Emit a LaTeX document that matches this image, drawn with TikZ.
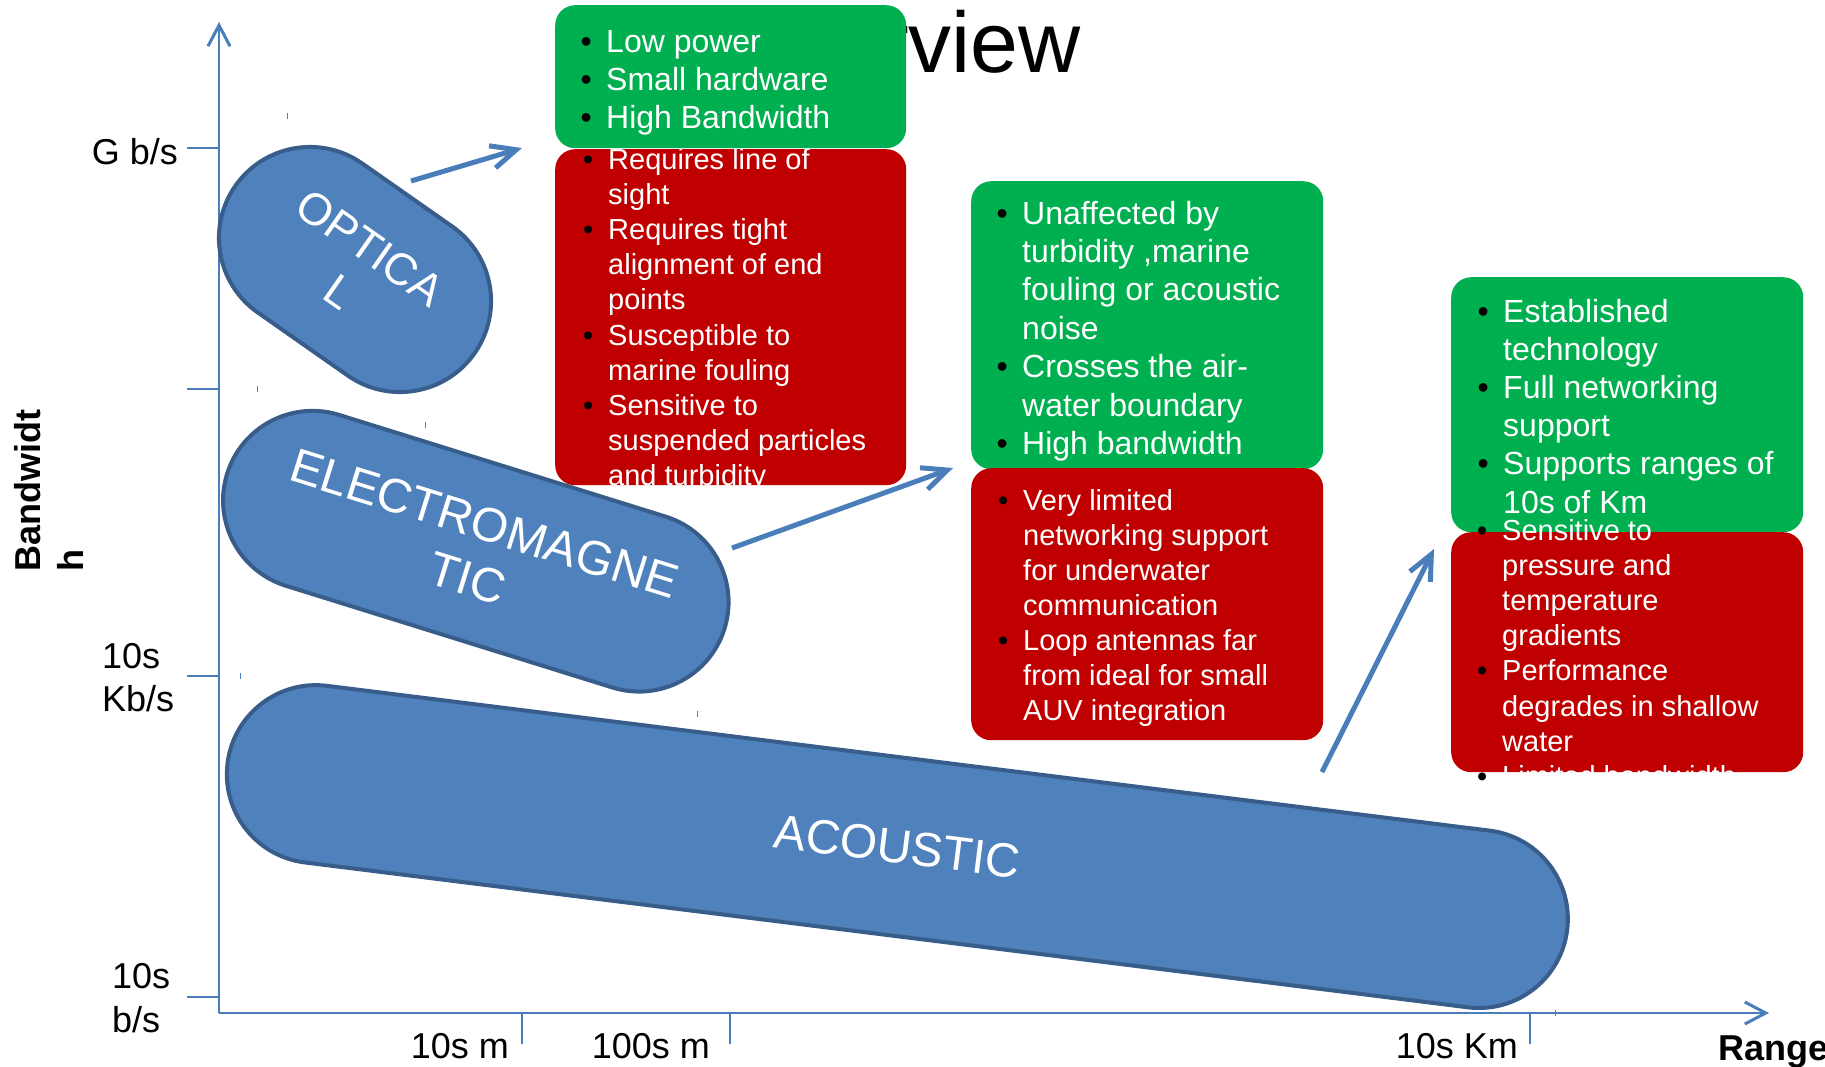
\documentclass[tikz,border=0pt]{standalone}
\usepackage{fontspec}
\setmainfont{Liberation Sans}
\usetikzlibrary{arrows.meta,shapes.misc}
\definecolor{axisblue}{HTML}{4A7EBB}
\definecolor{pillblue}{HTML}{4F81BD}
\definecolor{pillborder}{HTML}{385D8A}
\definecolor{okgreen}{HTML}{00B050}
\definecolor{badred}{HTML}{C00000}
\newcommand\bul{\makebox[0pt][r]{\textcolor{black}{•}\hspace{\dimexpr20pt-0.175em\relax}}}
\begin{document}
\begin{tikzpicture}[x=1pt,y=-1pt,
  lab/.style={inner sep=0pt, font=\fontsize{36}{43.2}\selectfont, text=black},
  blab/.style={inner sep=0pt, font=\fontsize{36}{43.2}\selectfont\bfseries, text=black},
  axisline/.style={draw=axisblue, line width=2pt},
  axisarrow/.style={axisline, -{Straight Barb[length=21pt,width=22pt,line width=3pt]}},
  tinymark/.style={draw=axisblue, line width=1pt},
  conn/.style={draw=axisblue, line width=5pt, -{Straight Barb[length=25pt,width=23pt,line width=5pt]}},
  pill/.style={rounded rectangle, draw=pillborder, fill=pillblue, line width=4pt, text=white, align=center, inner sep=0pt},
  gbox/.style={fill=okgreen, rounded corners=20pt, anchor=north west, inner sep=0pt},
  rbox/.style={fill=badred, rounded corners=20pt, anchor=north west, inner sep=0pt},
  txt/.style={anchor=base west, inner sep=0pt, text=white},
  fbig/.style={font=\fontsize{32}{38.4}\selectfont},
  fsmall/.style={font=\fontsize{29}{35}\selectfont}]

\useasboundingbox[fill=white] (0,0) rectangle (1825,1066);

% title (partly hidden by the first green box)
\node[anchor=base east, inner sep=0pt, font=\fontsize{86}{100}\selectfont] (title) at (1081,72) {Overview};

% axes
\coordinate (O) at (219,1013);
\coordinate (ytop) at (219,22);
\coordinate (xend) at (1769,1013);
\draw[axisarrow] (O) -- (ytop);
\draw[axisarrow] (O) -- (xend);
\foreach \yy/\nm in {148/a,389/b,676/c,997/d}{
  \coordinate (yt\nm) at (187,\yy);
  \coordinate (ya\nm) at (219,\yy);
  \draw[axisline] (yt\nm) -- (ya\nm);
}
\foreach \xx/\nm in {522/a,730/b,1530/c}{
  \coordinate (xt\nm) at (\xx,1044);
  \coordinate (xa\nm) at (\xx,1013);
  \draw[axisline] (xa\nm) -- (xt\nm);
}
% tiny marks
\foreach \xx/\yy in {287/116,257/389,425/425,240/676,697/714,1555/1013}{
  \draw[tinymark] (\xx,\yy-3) -- (\xx,\yy+3);
}

% axis labels
\node[lab, anchor=base east] (lg) at (178,164) {G b/s};
\node[lab, anchor=base west] (lk1) at (102,668) {10s};
\node[lab, anchor=base west] (lk2) at (102,711) {Kb/s};
\node[lab, anchor=base west] (lb1) at (112,988) {10s};
\node[lab, anchor=base west] (lb2) at (112,1032) {b/s};
\node[lab, anchor=base east] (lm1) at (509,1058) {10s m};
\node[lab, anchor=base east] (lm2) at (710,1058) {100s m};
\node[lab, anchor=base east] (lm3) at (1518,1058) {10s Km};
\node[blab, anchor=base west] (lrange) at (1718,1060) {Range};
\node[blab, anchor=base west, rotate=90] (lbw1) at (40,572) {Bandwidt};
\node[blab, anchor=base west, rotate=90] (lbw2) at (83,572) {h};

% pills
\node[pill, minimum width=292, minimum height=182, rotate=-35,
      font=\fontsize{45}{54}\selectfont] (opt) at (355,269.5) {OPTICA\\L};
\node[pill, minimum width=521, minimum height=179, rotate=-17.3,
      font=\fontsize{48}{57.6}\selectfont] (em) at (475.8,551.2) {ELECTROMAGNE\\TIC};
\node[pill, minimum width=1350, minimum height=178, rotate=-7.1,
      font=\fontsize{48}{57.6}\selectfont] (ac) at (897.35,846.55) {ACOUSTIC};

% left pair: red first, green on top
\node[rbox, minimum width=351, minimum height=336] (r1) at (555,149) {};
\foreach \t [count=\i from 0] in {{\bul Requires line of},{sight},{\bul Requires tight},{alignment of end},{points},{\bul Susceptible to},{marine fouling},{\bul Sensitive to},{suspended particles},{and turbidity}}
  \node[txt,fsmall] (r1t\i) at (608,169.5+35.1*\i) {\t};
\node[gbox, minimum width=351, minimum height=143] (g1) at (555,5) {};
\foreach \t [count=\i from 0] in {{\bul Low power},{\bul Small hardware},{\bul High Bandwidth}}
  \node[txt,fbig] (g1t\i) at (606,52+38.2*\i) {\t};

% middle pair
\node[gbox, minimum width=352, minimum height=288] (g2) at (971,181) {};
\foreach \t [count=\i from 0] in {{\bul Unaffected by},{turbidity ,marine},{fouling or acoustic},{noise},{\bul Crosses the air-},{water boundary},{\bul High bandwidth}}
  \node[txt,fbig] (g2t\i) at (1022,224+38.4*\i) {\t};
\node[rbox, minimum width=352, minimum height=272] (r2) at (971,468) {};
\foreach \t [count=\i from 0] in {{\bul Very limited},{networking support},{for underwater},{communication},{\bul Loop antennas far},{from ideal for small},{AUV integration}}
  \node[txt,fsmall] (r2t\i) at (1023,510+35.1*\i) {\t};

% right pair: green first, red on top
\node[gbox, minimum width=352, minimum height=255] (g3) at (1451,277) {};
\foreach \t [count=\i from 0] in {{\bul Established},{technology},{\bul Full networking},{support},{\bul Supports ranges of},{10s of Km}}
  \node[txt,fbig] (g3t\i) at (1503,322+38.2*\i) {\t};
\node[rbox, minimum width=352, minimum height=240] (r3) at (1451,532) {};
\foreach \t [count=\i from 0] in {{\bul Sensitive to},{pressure and},{temperature},{gradients},{\bul Performance},{degrades in shallow},{water},{\bul Limited bandwidth}}
  \node[txt,fsmall] (r3t\i) at (1502,540+35.2*\i) {\t};

% connectors
\coordinate (c1s) at (411,181);
\coordinate (c1e) at (522,148);
\coordinate (c2s) at (732,548);
\coordinate (c2e) at (953,468);
\coordinate (c3s) at (1322,772);
\coordinate (c3e) at (1434,549);
\draw[conn] (c1s) -- (c1e);
\draw[conn] (c2s) -- (c2e);
\draw[conn] (c3s) -- (c3e);
\end{tikzpicture}
\end{document}
